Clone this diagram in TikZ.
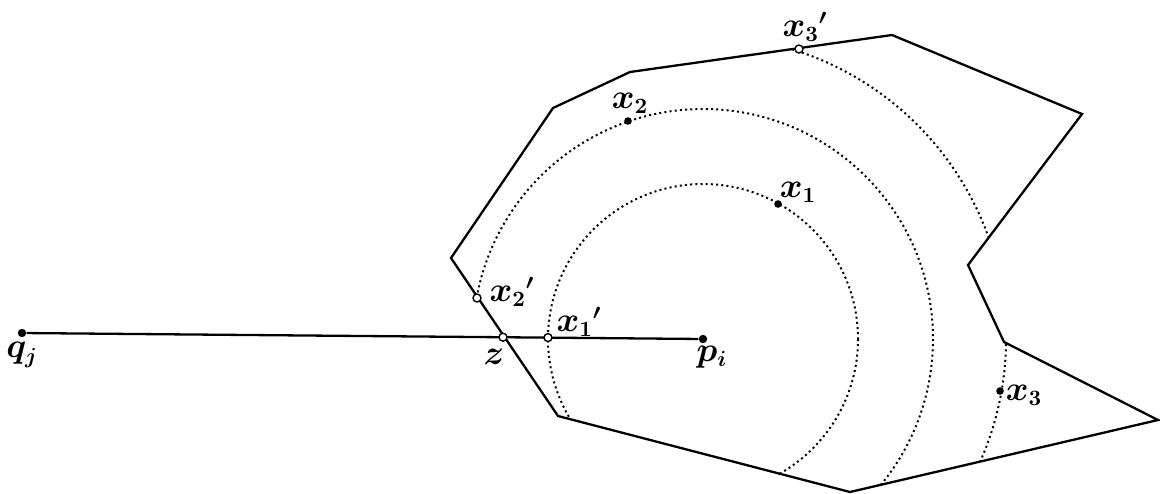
\documentclass[tikz,border=0pt]{standalone}
\begin{document}
\begin{tikzpicture}[x=0.5pt,y=-0.5pt,
  edge/.style={line width=1.15pt, line join=miter},
  dotline/.style={line width=1pt, dash pattern=on 1pt off 1.6pt},
  fullpt/.style={circle, fill=black, inner sep=0pt, minimum size=4.2pt},
  openpt/.style={circle, draw=black, fill=white, line width=0.7pt, inner sep=0pt, minimum size=4pt},
  lab/.style={inner sep=0pt, font=\fontsize{16}{18}\selectfont\boldmath}]
\useasboundingbox (0,0) rectangle (1160,493);
\def\poly{(451,258) -- (553,108) -- (630,72) -- (892,35) -- (1082,114) -- (968,265) -- (1004,342) -- (1158,420) -- (850,492) -- (558,416) -- cycle}
\coordinate (P) at (703,339);
% dotted circles clipped to the region
\begin{scope}
  \clip \poly;
  \draw[dotline] (P) circle[radius=155];
  \draw[dotline] (P) circle[radius=230];
  \draw[dotline] (P) circle[radius=303];
\end{scope}
% region boundary
\draw[edge] \poly;
% points
\node[fullpt] (q) at (22,333) {};
\node[fullpt] (p) at (703,339) {};
\draw[line width=1.15pt] (q) -- (p);
\node[openpt] (z) at (503,337.2) {};
\node[openpt] (x1p) at (548,337.6) {};
\node[openpt] (x2p) at (477,298) {};
\node[openpt] (x3p) at (799,49) {};
\node[fullpt, minimum size=3.8pt] (x1) at (778,204) {};
\node[fullpt, minimum size=3.8pt] (x2) at (628,121) {};
\node[fullpt, minimum size=3.8pt] (x3) at (1000,391) {};
% labels
\node[lab] (lq) at (22,355) {$q_j$};
\node[lab] (lp) at (712,357) {$p_i$};
\node[lab] (lz) at (494,357) {$z$};
\node[lab] (lx1p) at (579,322) {$x_1{}'$};
\node[lab] (lx2p) at (512,292) {$x_2{}'$};
\node[lab] (lx3p) at (805,27) {$x_3{}'$};
\node[lab] (lx1) at (798,192) {$x_1$};
\node[lab] (lx2) at (630,103) {$x_2$};
\node[lab] (lx3) at (1024,395) {$x_3$};
\end{tikzpicture}
\end{document}
